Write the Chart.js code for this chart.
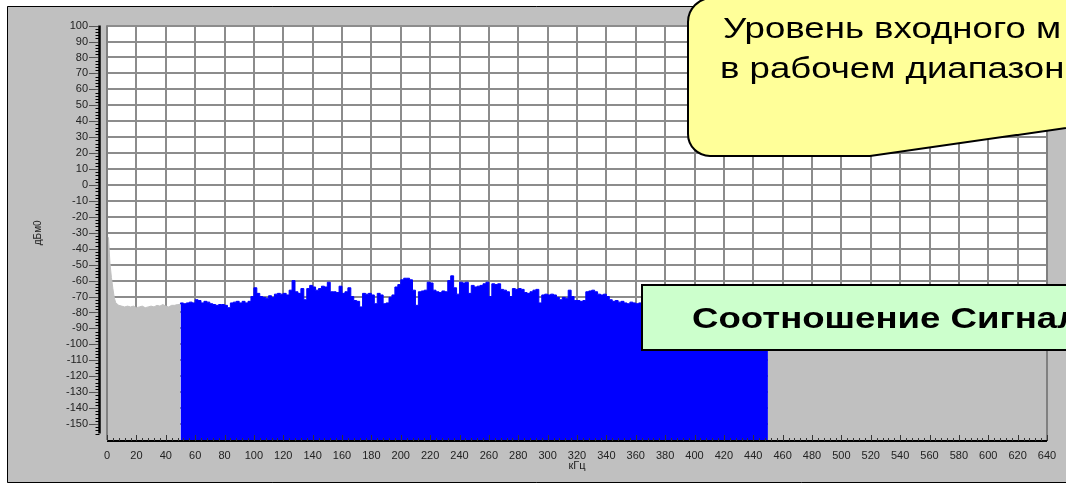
<!DOCTYPE html>
<html>
<head>
<meta charset="utf-8">
<script src="https://cdn.jsdelivr.net/npm/chart.js@4"></script>
<style>
  html, body { margin: 0; padding: 0; background: #fff; overflow: hidden; }
  #wrap { position: relative; width: 1066px; height: 483px; }
  #overlay { position: absolute; left: 0; top: 0; }
</style>
</head>
<body>
<div id="wrap">
  <canvas id="spectrum" width="1066" height="483"></canvas>
  <svg id="overlay" width="1066" height="483" xmlns="http://www.w3.org/2000/svg">
    <path d="M 688 22 A 24 24 0 0 1 712 -2 L 1080 -2 L 1080 126 L 870 156 L 710 156 A 22 22 0 0 1 688 134 Z"
          fill="#ffff99" stroke="#000" stroke-width="2"/>
    <text transform="translate(723 38) scale(1.22 1)" font-family="Liberation Sans, Arial, sans-serif" font-size="30" fill="#000">Уровень входного м</text>
    <text transform="translate(720 78) scale(1.22 1)" font-family="Liberation Sans, Arial, sans-serif" font-size="30" fill="#000">в рабочем диапазон</text>
    <rect x="642" y="285" width="450" height="65" fill="#ccffcc" stroke="#000" stroke-width="2"/>
    <text transform="translate(692 328) scale(1.22 1)" font-family="Liberation Sans, Arial, sans-serif" font-size="30" font-weight="bold" fill="#000">Соотношение Сигнал</text>
  </svg>
</div>
<script>
// axis ticks
const xTicks = [0, 20, 40, 60, 80, 100, 120, 140, 160, 180, 200, 220, 240, 260, 280, 300,
  320, 340, 360, 380, 400, 420, 440, 460, 480, 500, 520, 540, 560, 580, 600, 620, 640];
const yTicks = [100, 90, 80, 70, 60, 50, 40, 30, 20, 10, 0, -10, -20, -30, -40, -50, -60,
  -70, -80, -90, -100, -110, -120, -130, -140, -150];

// noise below the band, kHz / dBm0
const lowFreqs = [0, 1, 2, 3, 4, 5, 6, 8, 10, 12, 14, 16, 18, 20, 22, 24, 26, 28, 30, 32,
  34, 36, 38, 40, 42, 44, 46, 48, 50];
const lowLevels = [-33, -33, -49, -58, -65, -71, -74, -75.5, -76, -76.5, -76, -76.5, -76, -77,
  -76.5, -76, -77, -76.5, -76, -76.5, -75.5, -76, -75, -76, -76.5, -75.5, -75.5, -75, -75];

// working band 50..450 kHz, one value every 2 kHz
const bandStart = 50;
const bandStep = 2;
const bandLevels = [
  -75, -74, -74.5, -74, -73.5, -74, -72, -72.5, -74, -73,
  -73.5, -74.5, -75, -75.5, -75, -75, -75.5, -77, -74, -73.5,
  -73, -74, -73, -74, -73, -70, -64.5, -68, -70, -70.5,
  -71, -69.5, -70.5, -68.5, -68, -68.5, -68, -69, -66, -60,
  -67, -68, -65, -72, -65, -63, -64, -66, -65, -63.5,
  -64, -61, -67, -67, -67.5, -63.5, -68, -67, -64.5, -70,
  -72.5, -73, -76.5, -68, -68.5, -68, -69, -74.5, -68, -69,
  -74.5, -74, -70.5, -69, -64, -62.5, -59.5, -58.5, -58.5, -59.5,
  -66, -75.5, -67, -66.5, -66, -61, -61.5, -66, -67, -67.5,
  -66.5, -67, -60, -57, -64.5, -68.5, -61, -61.5, -61, -68,
  -63, -64, -63.5, -63, -62, -61, -70, -62, -62.5, -62,
  -65.5, -66, -67, -70, -65, -65.5, -65, -65.5, -67.5, -68,
  -67, -66, -65.5, -74, -69, -68.5, -69, -68.5, -69, -70.5,
  -72, -70.5, -71, -66, -70, -72.5, -72.5, -73, -72.5, -67,
  -66.5, -66, -67, -68.5, -69, -68.5, -70, -72, -73, -72.5,
  -73.5, -73, -74, -74.5, -73.5, -74, -74.5, -74, -75, -74.5,
  -75.5, -74, -75, -76, -74.5, -75, -74, -75.5, -75, -74.5,
  -76, -75, -74, -75.5, -74.5, -75, -76, -74.5, -75, -75.5,
  -74, -75, -76, -74.5, -75, -75.5, -74.5, -75, -74, -76,
  -75, -74.5, -75.5, -75, -74, -75, -75.5, -74.5, -76, -75,
  -75
];

// noise above the band
const highFreqs = [450, 480, 510, 540, 570, 600, 640];
const highLevels = [-76, -77, -76.5, -77, -76, -77, -76.5];

const FONT = 'Liberation Sans, Arial, sans-serif';

function toPoints(xs, ys) {
  return xs.map((x, i) => ({ x: x, y: ys[i] }));
}
const bandPoints = bandLevels.map((v, i) => ({ x: bandStart + i * bandStep, y: v }));

// frame + white plot background
const framePlugin = {
  id: 'frame',
  beforeDraw(chart) {
    const ctx = chart.ctx;
    const a = chart.chartArea;
    ctx.save();
    ctx.fillStyle = '#ffffff';
    ctx.fillRect(0, 0, chart.width, chart.height);
    ctx.fillStyle = '#c0c0c0';
    ctx.fillRect(7, 6, chart.width - 7, chart.height - 6);
    ctx.strokeStyle = '#000';
    ctx.lineWidth = 1;
    ctx.beginPath();
    ctx.moveTo(7.5, chart.height - 0.5);
    ctx.lineTo(7.5, 6.5);
    ctx.lineTo(chart.width, 6.5);
    ctx.moveTo(7.5, chart.height - 0.5);
    ctx.lineTo(chart.width, chart.height - 0.5);
    ctx.stroke();
    ctx.fillStyle = '#ffffff';
    ctx.fillRect(a.left, a.top, a.right - a.left, a.bottom - a.top);
    ctx.restore();
  },
  afterDatasetsDraw(chart) {
    const ctx = chart.ctx;
    const a = chart.chartArea;
    const xs = chart.scales.x;
    const ys = chart.scales.y;
    ctx.save();
    // plot side borders over the fill
    ctx.strokeStyle = '#808080';
    ctx.lineWidth = 2;
    ctx.beginPath();
    ctx.moveTo(xs.getPixelForValue(0), a.top);
    ctx.lineTo(xs.getPixelForValue(0), a.bottom);
    ctx.moveTo(xs.getPixelForValue(640), a.top);
    ctx.lineTo(xs.getPixelForValue(640), a.bottom);
    ctx.stroke();

    // y axis, set apart from the plot
    const ax = 99.5;
    ctx.strokeStyle = '#000';
    ctx.lineWidth = 2.5;
    ctx.beginPath();
    ctx.moveTo(ax, ys.getPixelForValue(100));
    ctx.lineTo(ax, ys.getPixelForValue(-156));
    ctx.stroke();
    ctx.lineWidth = 1;
    ctx.beginPath();
    for (let v = 100; v >= -156; v -= 2) {
      const py = Math.round(ys.getPixelForValue(v)) + 0.5;
      ctx.moveTo(ax - 4, py);
      ctx.lineTo(ax, py);
    }
    ctx.stroke();
    ctx.strokeStyle = '#555';
    ctx.beginPath();
    yTicks.forEach(v => {
      const py = Math.round(ys.getPixelForValue(v)) + 0.5;
      ctx.moveTo(89, py);
      ctx.lineTo(ax - 1, py);
    });
    ctx.stroke();

    // x axis line with minor ticks
    const ay = a.bottom + 1;
    ctx.strokeStyle = '#000';
    ctx.lineWidth = 2;
    ctx.beginPath();
    ctx.moveTo(a.left, ay);
    ctx.lineTo(a.right, ay);
    ctx.stroke();
    ctx.lineWidth = 1;
    ctx.strokeStyle = '#333';
    ctx.beginPath();
    for (let v = 0; v <= 640; v += 4) {
      const px = Math.round(xs.getPixelForValue(v)) + 0.5;
      const len = v % 20 === 0 ? 6 : 3;
      ctx.moveTo(px, ay);
      ctx.lineTo(px, ay - len);
    }
    ctx.stroke();
    ctx.restore();
  }
};

new Chart(document.getElementById('spectrum'), {
  type: 'line',
  data: {
    datasets: [
      {
        data: toPoints(lowFreqs, lowLevels),
        borderColor: '#c0c0c0',
        backgroundColor: '#c0c0c0',
        borderWidth: 1,
        fill: 'start'
      },
      {
        data: toPoints(highFreqs, highLevels),
        borderColor: '#c0c0c0',
        backgroundColor: '#c0c0c0',
        borderWidth: 1,
        fill: 'start'
      },
      {
        data: bandPoints,
        borderColor: '#0000ff',
        backgroundColor: '#0000ff',
        borderWidth: 1,
        stepped: 'after',
        fill: 'start'
      }
    ]
  },
  options: {
    responsive: false,
    animation: false,
    devicePixelRatio: 1,
    layout: { padding: { left: 0, top: 25, right: 19, bottom: 0 } },
    elements: { point: { radius: 0 }, line: { tension: 0 } },
    plugins: { legend: { display: false }, tooltip: { enabled: false } },
    scales: {
      x: {
        type: 'linear',
        min: 0,
        max: 640,
        afterBuildTicks: s => { s.ticks = xTicks.map(v => ({ value: v })); },
        afterFit: s => { s.height = 43; },
        border: { display: false },
        grid: { color: '#8c8c8c', lineWidth: 2, drawTicks: false },
        ticks: { padding: 9, color: '#222', autoSkip: false, maxRotation: 0,
          font: { family: FONT, size: 11 } },
        title: { display: true, text: 'кГц', color: '#222',
          font: { family: FONT, size: 11 }, padding: { top: 0, bottom: 10 } }
      },
      y: {
        type: 'linear',
        min: -160,
        max: 100,
        afterBuildTicks: s => { s.ticks = yTicks.map(v => ({ value: v })); },
        afterFit: s => { s.width = 107; },
        border: { display: false },
        grid: { color: '#8c8c8c', lineWidth: 2, drawTicks: false },
        ticks: { padding: 19, color: '#222', autoSkip: false,
          font: { family: FONT, size: 11 } },
        title: { display: true, text: 'дБм0', color: '#222',
          font: { family: FONT, size: 10 }, padding: { top: 32, bottom: 0 } }
      }
    }
  },
  plugins: [framePlugin]
});
</script>
</body>
</html>
